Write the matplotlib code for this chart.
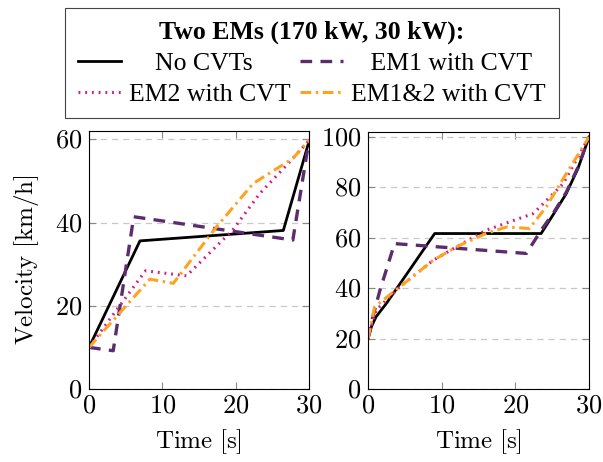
import numpy as np
from matplotlib import pyplot as plt

plt.rcParams['font.family'] = ['Liberation Serif', 'DejaVu Serif']
plt.rcParams['mathtext.fontset'] = 'cm'

# left panel (60 km/h target)
t_nocvt_a = [0, 6.95, 26.5, 30]
v_nocvt_a = [10, 35.6, 38.1, 59.5]
t_em1_a = [0, 3.3, 6.1, 27.8, 30]
v_em1_a = [10, 9.2, 41.4, 35.8, 59.7]
t_em2_a = [0, 7.7, 13.3, 19.6, 23.3, 26.9, 30]
v_em2_a = [10, 28.4, 27.2, 38.2, 47.0, 53.7, 59.7]
t_em12_a = [0, 8.3, 11.5, 17.4, 22.4, 27.8, 30]
v_em12_a = [10, 26.4, 25.4, 39.0, 49.4, 55.4, 59.8]

# right panel (100 km/h target)
t_nocvt_b = [0, 0.5, 1.1, 2.5, 5.7, 9.05, 23.5, 25.2, 26.9, 28.5, 30]
v_nocvt_b = [20, 25, 28.7, 34, 47.5, 61.7, 61.7, 69.5, 77.5, 87.5, 100]
t_em1_b = [0, 0.6, 1.6, 3.6, 21.5, 23.5, 25.2, 26.9, 28.5, 30]
v_em1_b = [20, 28, 39, 57.7, 53.8, 63, 70, 78, 88, 100]
t_em2_b = [0, 1.1, 4.3, 8.8, 12, 16, 22.4, 23.8, 26.5, 30]
v_em2_b = [20, 31.3, 40.5, 51, 56.4, 63, 69.6, 73.6, 81.5, 100]
t_em12_b = [0, 0.9, 4.3, 8.8, 12, 16, 18.8, 21.9, 24.2, 26.5, 30]
v_em12_b = [20, 32.6, 40.5, 51, 56.4, 61.7, 64.3, 63.7, 72.3, 83.5, 100]

labels = ['    No CVTs', 'EM2 with CVT', '   EM1 with CVT', 'EM1&2 with CVT']
purple = '#5b2d6e'
magenta = '#d11d7f'
orange = '#ffa220'

fig = plt.figure(figsize=(6.03, 4.62), dpi=100)
ax1 = fig.add_axes([0.1476, 0.158, 0.3648, 0.5584])
ax2 = fig.add_axes([0.6103, 0.158, 0.3665, 0.5563])


def draw(ax, data, ymax, yticks):
    (tn, vn), (t1, v1), (t2, v2), (t12, v12) = data
    h0, = ax.plot(tn, vn, color='black', lw=2.0)
    h1, = ax.plot(t1, v1, color=purple, lw=2.4, ls=(0, (3.5, 2.5)))
    h2, = ax.plot(t2, v2, color=magenta, lw=2.2, ls=(0, (0.6, 1.6)))
    h3, = ax.plot(t12, v12, color=orange, lw=2.2, ls=(0, (3.5, 1.5, 0.8, 1.5)))
    ax.set_xlim(0, 30)
    ax.set_ylim(0, ymax)
    ax.set_xticks([0, 10, 20, 30])
    ax.set_xticklabels(['$%d$' % v for v in [0, 10, 20, 30]])
    ax.set_yticks(yticks)
    ax.set_yticklabels(['$%d$' % v for v in yticks])
    ax.tick_params(direction='in', top=True, right=True, labelsize=19,
                   color='#888888', length=5, pad=5)
    ax.grid(axis='y', ls=(0, (5, 4)), color='#c8c8c8', lw=0.9)
    ax.set_xlabel(r'$\mathrm{Time\ [s]}$', fontsize=18, labelpad=7)
    return [h0, h2, h1, h3]


hs = draw(ax1, [(t_nocvt_a, v_nocvt_a), (t_em1_a, v_em1_a),
                (t_em2_a, v_em2_a), (t_em12_a, v_em12_a)],
          62, [0, 20, 40, 60])
draw(ax2, [(t_nocvt_b, v_nocvt_b), (t_em1_b, v_em1_b),
           (t_em2_b, v_em2_b), (t_em12_b, v_em12_b)],
     102, [0, 20, 40, 60, 80, 100])
ax1.set_ylabel(r'$\mathrm{Velocity\ [km/h]}$', fontsize=18, labelpad=10)

leg = fig.legend(hs, labels, ncol=2, loc='upper center',
                 bbox_to_anchor=(0.517, 0.983), fontsize=18.5,
                 title='Two EMs (170 kW, 30 kW):',
                 title_fontproperties={'weight': 'bold', 'size': 18.5},
                 fancybox=False, edgecolor='#444444', framealpha=1,
                 handlelength=1.7, columnspacing=0.35, handletextpad=0.3,
                 labelspacing=0.3, borderpad=0.5, borderaxespad=0)
leg.get_frame().set_linewidth(0.8)

plt.savefig('out.png')
